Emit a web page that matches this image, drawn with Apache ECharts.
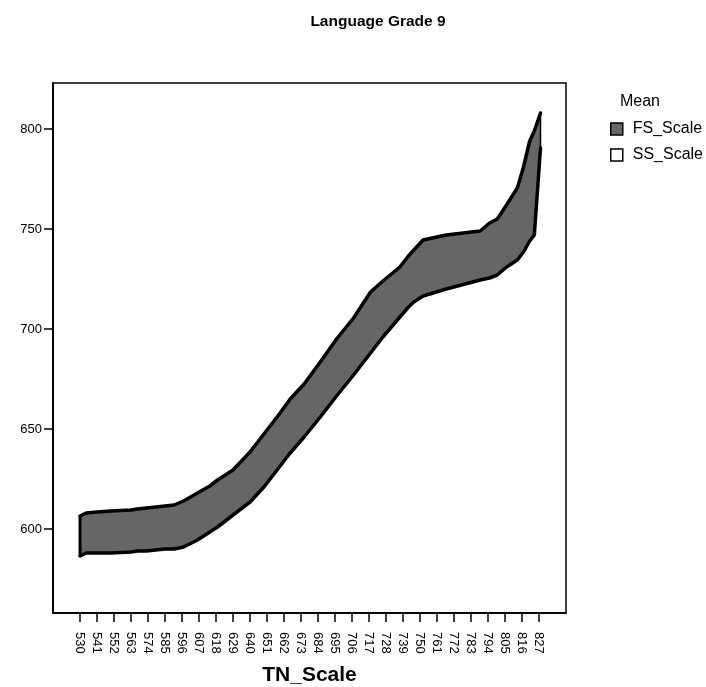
<!DOCTYPE html>
<html>
<head>
<meta charset="utf-8">
<script src="https://cdn.jsdelivr.net/npm/echarts@6/dist/echarts.min.js"></script>
<style>
html,body{margin:0;padding:0;background:#fff;}
#chart{width:706px;height:687px;}
</style>
</head>
<body>
<div id="chart"></div>
<script>
// TN_Scale positions (x) where the curves were read
var tnScale = [530, 534, 541, 550, 563, 567, 573, 585, 591, 597, 606, 614, 619, 629, 640, 649, 659, 666, 675, 685, 696, 707, 718, 726, 737, 742, 746, 752, 767, 789, 795, 800, 806, 813, 817, 821, 824, 828];
// Mean FS_Scale (upper curve)
var fsScale = [606.5, 608, 608.5, 609, 609.5, 610, 610.5, 611.5, 612, 614, 618, 621.5, 624.5, 629.5, 638.5, 647.5, 657.5, 665, 672.5, 683, 695, 705.5, 718.5, 724, 731, 736, 739.5, 744.5, 747, 749, 753, 755, 762, 770.5, 781, 794, 799, 808];
// Mean SS_Scale (lower curve)
var ssScale = [586.5, 588, 588, 588, 588.5, 589, 589, 590, 590, 591, 594.5, 598.5, 601, 607, 613.5, 621, 631, 638, 646, 655.5, 666.5, 677, 688, 696, 706, 710.5, 713.5, 716.5, 720, 724.5, 725.5, 727, 731, 734.5, 738.5, 744, 747, 790.5];
// Axis tick labels
var xTickLabels = [530, 541, 552, 563, 574, 585, 596, 607, 618, 629, 640, 651, 662, 673, 684, 695, 706, 717, 728, 739, 750, 761, 772, 783, 794, 805, 816, 827];
var yTickLabels = [600, 650, 700, 750, 800];

var FONT = "'Liberation Sans', Arial, Helvetica, sans-serif";

var fsData = tnScale.map(function (t, i) { return [t, fsScale[i]]; });
var ssData = tnScale.map(function (t, i) { return [t, ssScale[i]]; });
var n = tnScale.length - 1;
var leftEdge = [[tnScale[0], ssScale[0]], [tnScale[0], fsScale[0]]];
var rightEdge = [[tnScale[n], ssScale[n]], [tnScale[n], fsScale[n]]];

function renderBand(params, api) {
  var pts = [];
  for (var i = 0; i <= n; i++) pts.push(api.coord([tnScale[i], fsScale[i]]));
  for (var j = n; j >= 0; j--) pts.push(api.coord([tnScale[j], ssScale[j]]));
  return {type: 'polygon', shape: {points: pts}, style: {fill: '#666666', stroke: null}};
}

var chart = echarts.init(document.getElementById('chart'), null, {renderer: 'canvas'});
chart.setOption({
  animation: false,
  backgroundColor: '#fff',
  textStyle: {fontFamily: FONT, color: '#000'},
  grid: {left: 53, top: 83, right: 140, bottom: 74, outerBoundsMode: 'none', containLabel: false,
         show: true, borderColor: '#000', borderWidth: 1.5, backgroundColor: 'transparent'},
  graphic: [
    {type: 'text', x: 378, y: 22, style: {text: 'Language Grade 9', font: 'bold 15.5px ' + FONT, fill: '#000', textAlign: 'center', textVerticalAlign: 'middle'}},
    {type: 'text', x: 640, y: 102, style: {text: 'Mean', font: '16px ' + FONT, fill: '#000', textAlign: 'center', textVerticalAlign: 'middle'}}
  ],
  legend: {
    orient: 'vertical',
    left: 605,
    top: 116,
    itemWidth: 12,
    itemHeight: 12,
    itemGap: 10,
    icon: 'rect',
    textStyle: {fontFamily: FONT, fontSize: 16, color: '#000', padding: [0, 0, 0, 5]},
    data: [
      {name: 'FS_Scale', itemStyle: {color: '#666666', borderColor: '#000', borderWidth: 1.5}},
      {name: 'SS_Scale', itemStyle: {color: '#ffffff', borderColor: '#000', borderWidth: 1.5}}
    ]
  },
  xAxis: {
    type: 'value',
    min: 512.5,
    max: 844.5,
    name: 'TN_Scale',
    nameLocation: 'middle',
    nameGap: 52,
    nameTextStyle: {fontFamily: FONT, fontSize: 21, fontWeight: 'bold', color: '#000'},
    splitLine: {show: false},
    axisLine: {show: true, onZero: false, lineStyle: {color: '#000', width: 2}},
    axisTick: {show: true, length: 9, lineStyle: {color: '#000', width: 1.5}, customValues: xTickLabels},
    axisLabel: {rotate: -90, fontSize: 13, color: '#000', margin: 19, fontFamily: FONT, customValues: xTickLabels}
  },
  yAxis: {
    type: 'value',
    min: 558,
    max: 823,
    splitLine: {show: false},
    axisLine: {show: true, onZero: false, lineStyle: {color: '#000', width: 2}},
    axisTick: {show: true, length: 9, lineStyle: {color: '#000', width: 1.5}, customValues: yTickLabels},
    axisLabel: {fontSize: 13, color: '#000', margin: 11, fontFamily: FONT, customValues: yTickLabels}
  },
  series: [
    {
      name: 'band', type: 'custom', data: [[tnScale[0], fsScale[0]]],
      renderItem: renderBand, silent: true, z: 1
    },
    {
      name: 'FS_Scale', type: 'line', data: fsData,
      symbol: 'none', color: '#666666',
      lineStyle: {color: '#000', width: 3.5, join: 'round', cap: 'round'},
      z: 3
    },
    {
      name: 'SS_Scale', type: 'line', data: ssData,
      symbol: 'none', color: '#ffffff',
      lineStyle: {color: '#000', width: 3.5, join: 'round', cap: 'round'},
      z: 3
    },
    {
      name: 'leftEdge', type: 'line', data: leftEdge, symbol: 'none',
      lineStyle: {color: '#000', width: 3}, z: 4
    },
    {
      name: 'rightEdge', type: 'line', data: rightEdge, symbol: 'none',
      lineStyle: {color: '#000', width: 1.5}, z: 4
    }
  ]
});
</script>
</body>
</html>
